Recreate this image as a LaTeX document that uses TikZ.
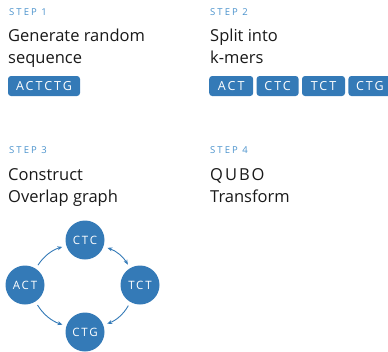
\documentclass[tikz,border=0pt]{standalone}
\usepackage{fontspec}
\setmainfont{Open Sans}
\newfontfamily\stepfont[LetterSpace=22]{Open Sans}
\newfontfamily\kmerfont[LetterSpace=16]{Open Sans}
\newfontfamily\widefont[LetterSpace=12]{Open Sans}
\usetikzlibrary{positioning,arrows.meta}

\definecolor{stepblue}{RGB}{74,146,204}
\definecolor{boxblue}{RGB}{52,122,183}
\definecolor{ink}{RGB}{25,25,25}

\tikzset{
  steplabel/.style={anchor=base west, inner sep=0pt, text=stepblue,
    font=\stepfont\fontsize{9.5}{10}\selectfont},
  heading/.style={anchor=base west, inner sep=0pt, align=left, text=ink,
    font=\fontsize{16.5}{22}\selectfont},
  kmerbox/.style={fill=boxblue, text=white, rounded corners=3pt,
    minimum height=20pt, inner sep=0pt, font=\kmerfont\fontsize{12.5}{12}\selectfont},
  kmernode/.style={circle, fill=boxblue, text=white, minimum size=39pt,
    inner sep=0pt, font=\kmerfont\fontsize{11.5}{12}\selectfont},
  link/.style={-{Stealth[length=5pt,width=4pt]}, draw=boxblue, line width=0.9pt,
    shorten >=4pt, shorten <=4pt}
}

\begin{document}
\begin{tikzpicture}[x=1pt, y=-1pt]
\useasboundingbox (0,0) rectangle (388,351);

% step 1
\node[steplabel] (s1) at (9,15) {STEP 1};
\node[heading] (h1) at (8,63) {Generate random\\sequence};
\node[kmerbox, minimum width=72pt] (seq) at (44,86) {ACTCTG};

% step 2
\node[steplabel] (s2) at (210,15) {STEP 2};
\node[heading] (h2) at (210,63) {Split into\\k-mers};
\node[kmerbox, minimum width=44pt, anchor=west] (k1) at (209,86) {ACT};
\node[kmerbox, minimum width=42pt, right=3pt of k1] (k2) {CTC};
\node[kmerbox, minimum width=43pt, right=3pt of k2] (k3) {TCT};
\node[kmerbox, minimum width=43pt, right=3pt of k3] (k4) {CTG};

% step 3
\node[steplabel] (s3) at (9,153) {STEP 3};
\node[heading] (h3) at (8,202) {Construct\\Overlap graph};
\node[kmernode] (act) at (25,285) {ACT};
\node[kmernode] (ctc) at (85,240) {CTC};
\node[kmernode] (tct) at (140,285) {TCT};
\node[kmernode] (ctg) at (85,332) {CTG};
\draw[link] (act) to[bend left=20] (ctc);
\draw[link, {Stealth[length=5pt,width=4pt]}-{Stealth[length=5pt,width=4pt]}] (ctc) to[bend left=20] (tct);
\draw[link] (tct) to[bend left=20] (ctg);
\draw[link] (act) to[bend right=20] (ctg);

% step 4
\node[steplabel] (s4) at (210,153) {STEP 4};
\node[heading] (h4) at (210,202) {{\widefont QUBO}\\Transform};
\end{tikzpicture}
\end{document}
